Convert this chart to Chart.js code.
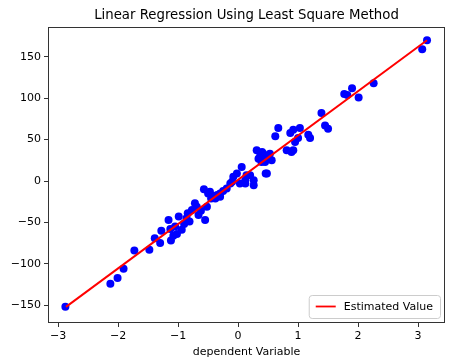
<!DOCTYPE html>
<html>
<head>
<meta charset="utf-8">
<script src="https://cdn.jsdelivr.net/npm/chart.js@4/dist/chart.umd.min.js"></script>
<style>
html,body{margin:0;padding:0;background:#fff;}
canvas{display:block;}
</style>
</head>
<body>
<canvas id="c" width="453" height="364"></canvas>
<script>
const titleText = "Linear Regression Using Least Square Method";
const xAxisTitle = "dependent Variable";
const legendLabel = "Estimated Value";

const xPoints = [-2.88,-2.13,-2.01,-1.91,-1.73,-1.48,-1.39,-1.30,-1.28,-1.16,-1.13,-1.12,-1.08,-1.02,-0.99,-0.94,-0.84,-0.81,
  -0.69,-0.66,-0.55,-0.57,-0.50,-0.52,-0.45,-0.41,-0.72,-0.47,-0.38,-0.30,-0.19,-0.13,-0.08,-0.02,0.06,0.12,0.14,0.26,
  0.31,0.37,0.42,0.46,0.39,0.20,0.45,0.53,0.48,0.62,0.67,0.81,0.89,0.87,0.92,1.03,1.00,1.17,1.20,1.39,1.45,1.50,
  1.77,1.82,1.90,2.01,2.26,3.07,3.15,-0.77,-0.30,-0.10,0.03,0.12,0.26,0.45,0.56,0.95,0.92,
  -0.90,-0.86,-1.05,-0.62,-0.35,0.34,0.40,-0.25];
const yPoints = [-152,-124,-117,-106,-84,-83,-69,-75,-60,-47,-58,-72,-66,-64,-43,-59,-39,-49,
  -31,-41,-47,-10,-15,-31,-21,-18,-27,-13,-21,-15,-9,-3,5,9,17,1,7,-5,
  37,31,33,9,23,7,29,33,9,54,64,37,35,58,62,64,52,56,52,82,67,63,
  105,104,112,101,118,159,170,-35,-19,-1,-3,-3,1,23,25,47,37,
  -52,-45,-55,-36,-17,27,35,-12];

const lineX = [-2.87, 3.15];
const lineY = [-152, 170];

const xTicks = [-3,-2,-1,0,1,2,3];
const yTicks = [-150,-100,-50,0,50,100,150];

const FONT = "'DejaVu Sans', sans-serif";
const fmt = v => String(v).replace('-', '\u2212');

const framePlugin = {
  id: 'frame',
  afterDraw(chart) {
    const {ctx, chartArea: a} = chart;
    ctx.save();
    ctx.strokeStyle = '#333';
    ctx.lineWidth = 1;
    ctx.strokeRect(Math.round(a.left) + 0.5, Math.round(a.top) + 0.5, Math.round(a.right - a.left) - 1, Math.round(a.bottom - a.top) - 1);
    // title centred over plot area
    ctx.fillStyle = '#000';
    ctx.font = "13.3px " + FONT;
    ctx.textAlign = 'center';
    ctx.textBaseline = 'middle';
    ctx.fillText(titleText, (a.left + a.right) / 2, 15.5);
    // legend
    ctx.font = "11px " + FONT;
    const tw = ctx.measureText(legendLabel).width;
    const w = 8 + 20 + 8 + tw + 6;
    const h = 23;
    const x = a.right - 5 - w;
    const y = a.bottom - 5 - h;
    ctx.beginPath();
    if (ctx.roundRect) ctx.roundRect(x + 0.5, y + 0.5, w, h, 3); else ctx.rect(x + 0.5, y + 0.5, w, h);
    ctx.fillStyle = 'rgba(255,255,255,0.8)';
    ctx.fill();
    ctx.strokeStyle = '#cccccc';
    ctx.stroke();
    ctx.beginPath();
    ctx.strokeStyle = 'red';
    ctx.lineWidth = 1.8;
    ctx.moveTo(x + 7, y + h / 2);
    ctx.lineTo(x + 27, y + h / 2);
    ctx.stroke();
    ctx.fillStyle = '#000';
    ctx.textBaseline = 'middle';
    ctx.textAlign = 'left';
    ctx.fillText(legendLabel, x + 35, y + h / 2 + 0.5);
    ctx.restore();
  }
};

new Chart(document.getElementById('c'), {
  type: 'scatter',
  data: {
    datasets: [
      {
        label: legendLabel,
        data: lineX.map((x, i) => ({x, y: lineY[i]})),
        showLine: true,
        borderColor: 'red',
        borderWidth: 2,
        pointRadius: 0,
        order: 0
      },
      {
        label: 'points',
        data: xPoints.map((x, i) => ({x, y: yPoints[i]})),
        backgroundColor: '#0000ff',
        borderWidth: 0,
        pointRadius: 4,
        order: 1
      }
    ]
  },
  options: {
    responsive: false,
    animation: false,
    devicePixelRatio: 1,
    layout: {padding: {left: 0, right: 8, top: 27, bottom: 2}},
    plugins: {
      legend: {display: false},
      tooltip: {enabled: false},
      title: {display: false}
    },
    scales: {
      x: {
        type: 'linear',
        min: -3.17, max: 3.45,
        afterBuildTicks: s => { s.ticks = xTicks.map(v => ({value: v})); },
        afterFit: s => { s.height = 39; },
        ticks: {color: '#000', font: {family: FONT, size: 11}, padding: 3, maxRotation: 0, callback: v => fmt(v)},
        grid: {display: true, drawOnChartArea: false, drawTicks: true, tickLength: 4, color: '#333'},
        border: {display: false},
        title: {display: true, text: xAxisTitle, color: '#000', font: {family: FONT, size: 11}, padding: {top: 0, bottom: 3}}
      },
      y: {
        type: 'linear',
        min: -171.5, max: 186,
        afterBuildTicks: s => { s.ticks = yTicks.map(v => ({value: v})); },
        afterFit: s => { s.width = 48; },
        ticks: {color: '#000', font: {family: FONT, size: 11}, padding: 3, callback: v => fmt(v)},
        grid: {display: true, drawOnChartArea: false, drawTicks: true, tickLength: 4, color: '#333'},
        border: {display: false}
      }
    }
  },
  plugins: [framePlugin]
});
</script>
</body>
</html>
